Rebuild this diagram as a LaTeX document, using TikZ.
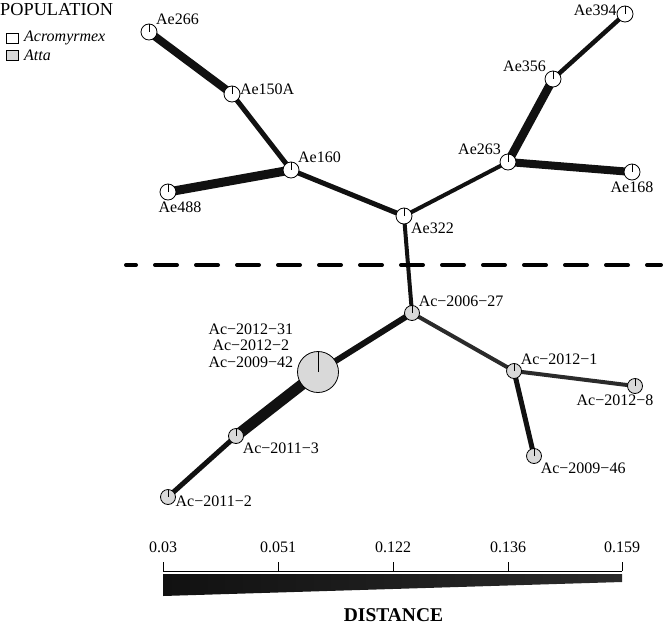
\documentclass[tikz,border=0pt]{standalone}
\usepackage{fontspec}
\setmainfont{Liberation Serif}
\usetikzlibrary{backgrounds}

\definecolor{attagrey}{HTML}{D9D9D9}
\definecolor{edgeblack}{HTML}{111111}
\definecolor{edgegrey}{HTML}{2B2B2B}

\tikzset{
  hap/.style = {circle, draw, line width=0.8pt, inner sep=0pt, minimum size=16pt,
    path picture={\draw[line width=0.8pt] (path picture bounding box.center) -- (path picture bounding box.north);}},
  acro/.style = {hap, fill=white},
  atta/.style = {hap, fill=attagrey},
  lbl/.style = {font=\fontsize{16}{16.5}\selectfont, inner sep=1pt},
  tie/.style = {line width=#1, draw=edgeblack},
}

\begin{document}
\begin{tikzpicture}[x=1pt, y=-1pt]
\useasboundingbox (0,0) rectangle (663,626);

% legend
\node[font=\fontsize{18.3}{19}\selectfont, anchor=west, inner sep=0pt] (poptitle) at (0,10) {POPULATION};
\draw[line width=0.8pt, fill=white] (6,33) rectangle (18,43);
\draw[line width=0.8pt, fill=attagrey] (6,50) rectangle (18,60);
\node[lbl, anchor=west, font=\fontsize{16}{17}\selectfont\itshape] (legacro) at (23,38) {Acromyrmex};
\node[lbl, anchor=west, font=\fontsize{16}{17}\selectfont\itshape] (legatta) at (23,55) {Atta};

% Acromyrmex haplotypes
\node[acro, label={[lbl,anchor=south west]45:Ae266}] (ae266) at (149,32) {};
\node[acro, label={[lbl,anchor=west]35:Ae150A}] (ae150a) at (232,94) {};
\node[acro, label={[lbl,anchor=south west]45:Ae160}] (ae160) at (291,170) {};
\node[acro, label={[lbl,xshift=12pt]below:Ae488}] (ae488) at (168,192) {};
\node[acro, label={[lbl,anchor=north west]-45:Ae322}] (ae322) at (404,216) {};
\node[acro, label={[lbl,anchor=south east]135:Ae263}] (ae263) at (508,162) {};
\node[acro, label={[lbl,anchor=south east]135:Ae356}] (ae356) at (553,79) {};
\node[acro, label={[lbl,anchor=east]150:Ae394}] (ae394) at (625,14) {};
\node[acro, label={[lbl]below:Ae168}] (ae168) at (632,172) {};

% Atta haplotypes
\node[atta, minimum size=15pt, label={[lbl,anchor=south west]45:Ac−2006−27}] (ac200627) at (412,313) {};
\node[atta, minimum size=41pt, label={[lbl,anchor=south east,align=center,xshift=-3pt]170:Ac−2012−31\\Ac−2012−2\\Ac−2009−42}] (acbig) at (318,372) {};
\node[atta, minimum size=15pt, label={[lbl,anchor=north west]-45:Ac−2011−3}] (ac20113) at (236,436) {};
\node[atta, minimum size=15pt, label={[lbl,anchor=west]-35:Ac−2011−2}] (ac20112) at (168,497) {};
\node[atta, minimum size=15pt, label={[lbl,anchor=south west]45:Ac−2012−1}] (ac20121) at (514,371) {};
\node[atta, minimum size=15pt, label={[lbl,xshift=-20pt]below:Ac−2012−8}] (ac20128) at (635,386) {};
\node[atta, minimum size=15pt, label={[lbl,anchor=north west]-45:Ac−2009−46}] (ac200946) at (534,456) {};

% links
\begin{scope}[on background layer]
\draw[tie=8pt] (ae266.center) -- (ae150a.center);
\draw[tie=5pt] (ae150a.center) -- (ae160.center);
\draw[tie=9pt] (ae160.center) -- (ae488.center);
\draw[tie=5pt] (ae160.center) -- (ae322.center);
\draw[tie=4pt] (ae322.center) -- (ae263.center);
\draw[tie=8.5pt] (ae263.center) -- (ae356.center);
\draw[tie=4.5pt] (ae356.center) -- (ae394.center);
\draw[tie=8pt] (ae263.center) -- (ae168.center);
\draw[tie=4pt] (ae322.center) -- (ac200627.center);
\draw[tie=6pt] (ac200627.center) -- (acbig.center);
\draw[tie=11pt] (acbig.center) -- (ac20113.center);
\draw[tie=5pt] (ac20113.center) -- (ac20112.center);
\draw[tie=4pt, draw=edgegrey] (ac200627.center) -- (ac20121.center);
\draw[tie=4pt, draw=edgegrey] (ac20121.center) -- (ac20128.center);
\draw[tie=5pt] (ac20121.center) -- (ac200946.center);
\end{scope}

% split between the two genera
\draw[line width=4pt, line cap=round, dash pattern=on 22pt off 19pt, dash phase=12pt] (126,265) -- (661,265);

% distance scale
\draw[line width=0.8pt] (163,571) -- (622,571);
\foreach \x/\d in {163/0.03, 278/0.051, 393/0.122, 508/0.136, 622/0.159} {
  \draw[line width=0.8pt] (\x,562) -- (\x,571);
  \node[lbl] at (\x,547.5) {\d};
}
\shade[left color=edgeblack, right color=edgegrey] (163,574) -- (622,574) -- (622,582) -- (163,596) -- cycle;
\node[font=\bfseries\fontsize{19.5}{20}\selectfont] (distlabel) at (393.5,615.5) {DISTANCE};
\end{tikzpicture}
\end{document}
